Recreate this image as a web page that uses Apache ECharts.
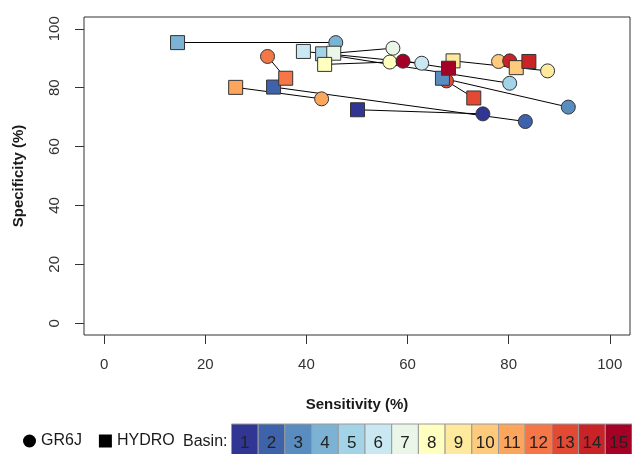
<!DOCTYPE html>
<html>
<head>
<meta charset="utf-8">
<script src="https://cdn.jsdelivr.net/npm/echarts@6/dist/echarts.min.js"></script>
<style>
  html, body { margin: 0; padding: 0; background: #fff; }
  #container { width: 632px; height: 454px; }
</style>
</head>
<body>
<div id="container"></div>
<script>
// basin ids and colours (blue -> red)
var basins = [1, 2, 3, 4, 5, 6, 7, 8, 9, 10, 11, 12, 13, 14, 15];
var basinColors = ['#313695', '#3f63ab', '#598dc0', '#7cb3d4', '#a3d3e6', '#c9e8f2', '#e9f6e8',
                   '#ffffbf', '#fee99d', '#fecb7c', '#fca55d', '#f57647', '#e34a33', '#c92227', '#a50026'];

// GR6J model, one value per basin
var gr6jSens = [74.9, 83.3, 91.8, 45.8, 80.2, 62.8, 57.1, 56.5, 87.7, 78.0, 43.0, 32.3, 67.7, 80.2, 59.1];
var gr6jSpec = [71.1, 68.5, 73.4, 95.3, 81.5, 88.3, 93.4, 88.7, 85.7, 88.9, 76.2, 90.6, 82.3, 89.1, 89.0];

// HYDRO model, one value per basin
var hydroSens = [50.1, 33.5, 66.9, 14.5, 43.2, 39.4, 45.4, 43.6, 69.0, 81.5, 26.0, 35.9, 73.1, 84.0, 68.1];
var hydroSpec = [72.5, 80.2, 83.2, 95.3, 91.5, 92.3, 91.7, 87.9, 89.1, 86.8, 80.1, 83.2, 76.5, 88.9, 86.6];

var tickValues = [0, 20, 40, 60, 80, 100];

var font = 'Liberation Sans, Arial, sans-serif';
var ink = '#1a1a1a';

var gr6jData = [], hydroData = [], links = [];
for (var i = 0; i < basins.length; i++) {
    gr6jData.push([gr6jSens[i], gr6jSpec[i], basins[i]]);
    hydroData.push([hydroSens[i], hydroSpec[i], basins[i]]);
    links.push({ coords: [[gr6jSens[i], gr6jSpec[i]], [hydroSens[i], hydroSpec[i]]] });
}

function basinColor(params) {
    return basinColors[params.data[2] - 1];
}

// colour key for basins, drawn as boxes with the number inside
var keyGraphics = [{
    type: 'text', left: 183, top: 434,
    style: { text: 'Basin:', font: '16px ' + font, fill: ink }
}];
var boxW = 26.7;
for (var j = 0; j < basins.length; j++) {
    keyGraphics.push({
        type: 'rect',
        shape: { x: 231.5 + j * boxW, y: 424, width: boxW, height: 34 },
        style: { fill: basinColors[j], stroke: '#999', lineWidth: 1 }
    });
    keyGraphics.push({
        type: 'text',
        x: 231.5 + j * boxW + boxW / 2, y: 443,
        style: { text: String(basins[j]), font: '17px ' + font, fill: '#222',
                 align: 'center', verticalAlign: 'middle' }
    });
}

var myChart = echarts.init(document.getElementById('container'), null, { renderer: 'canvas' });
var option = {
    animation: false,
    backgroundColor: '#fff',
    textStyle: { fontFamily: font },
    grid: {
        left: 84, right: 2, top: 17, bottom: 119,
        show: true, borderColor: '#333', borderWidth: 1
    },
    legend: {
        left: 23, top: 433, padding: 0,
        itemWidth: 13, itemHeight: 13, itemGap: 17,
        textStyle: { fontSize: 16, color: ink, fontFamily: font },
        data: [
            { name: 'GR6J', icon: 'circle', itemStyle: { color: '#000', borderWidth: 0 } },
            { name: 'HYDRO', icon: 'rect', itemStyle: { color: '#000', borderWidth: 0 } }
        ],
        selectedMode: false
    },
    xAxis: {
        type: 'value', min: -4, max: 104,
        name: 'Sensitivity (%)', nameLocation: 'middle', nameGap: 62,
        nameTextStyle: { fontSize: 15, fontWeight: 'bold', color: ink },
        axisLine: { show: false, onZero: false },
        splitLine: { show: false },
        axisTick: { show: true, customValues: tickValues, length: 9, lineStyle: { color: '#333' } },
        axisLabel: { customValues: tickValues, fontSize: 15, color: '#333', margin: 22 }
    },
    yAxis: {
        type: 'value', min: -4, max: 104,
        name: 'Specificity (%)', nameLocation: 'middle', nameGap: 58, nameRotate: 90,
        nameTextStyle: { fontSize: 15, fontWeight: 'bold', color: ink },
        axisLine: { show: false, onZero: false },
        splitLine: { show: false },
        axisTick: { show: true, customValues: tickValues, length: 9, lineStyle: { color: '#333' } },
        axisLabel: { customValues: tickValues, fontSize: 15, color: '#333', margin: 22, rotate: 90 }
    },
    series: [
        {
            name: 'pairs',
            type: 'lines',
            coordinateSystem: 'cartesian2d',
            polyline: false,
            silent: true,
            z: 1,
            lineStyle: { color: '#000', width: 1, opacity: 1 },
            data: links
        },
        {
            name: 'GR6J',
            type: 'scatter',
            symbol: 'circle',
            symbolSize: 14,
            z: 2,
            itemStyle: { color: basinColor, borderColor: '#333', borderWidth: 1, opacity: 1 },
            data: gr6jData
        },
        {
            name: 'HYDRO',
            type: 'scatter',
            symbol: 'rect',
            symbolSize: 14,
            z: 3,
            itemStyle: { color: basinColor, borderColor: '#333', borderWidth: 1, opacity: 1 },
            data: hydroData
        }
    ],
    graphic: keyGraphics
};
myChart.setOption(option);
</script>
</body>
</html>
